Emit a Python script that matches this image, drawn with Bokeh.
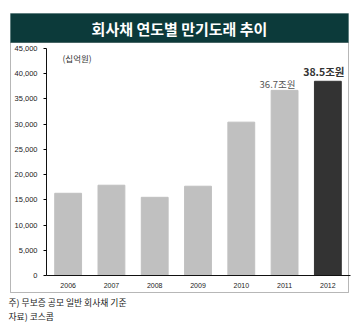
from bokeh.plotting import figure
from bokeh.models import (ColumnDataSource, FixedTicker, NumeralTickFormatter,
                          BoxAnnotation, Label, Range1d, LinearAxis)
from bokeh.core.properties import value
from bokeh.embed import file_html
from bokeh.resources import INLINE

years = ["2006", "2007", "2008", "2009", "2010", "2011", "2012"]
amounts = [16300, 17900, 15500, 17700, 30400, 36700, 38500]
bar_colors = ["#c0c0c0"] * 6 + ["#333333"]
y_ticks = [0, 5000, 10000, 15000, 20000, 25000, 30000, 35000, 40000, 45000]
note_idx = [5, 6]
note_values = [36700, 38500]
note_texts = ["36.7조원", "38.5조원"]

title_text = "회사채 연도별 만기도래 추이"
unit_text = "(십억원)"
foot1 = "주) 무보증 공모 일반 회사채 기준"
foot2 = "자료) 코스콤"

KR = "Noto Sans CJK KR"
NUM = "Liberation Sans"

W, H = 364, 323
# pixel geometry of the plotting area inside the canvas
AX_L, AX_R, AX_TOP, AX_BOT = 46, 349, 48, 275
n = len(years)
xs_per_px = n / (AX_R - AX_L)
ys_per_px = 45000 / (AX_BOT - AX_TOP)
x_range = Range1d(-AX_L * xs_per_px, n + (W - AX_R) * xs_per_px)
y_range = Range1d(-(H - AX_BOT) * ys_per_px, 45000 + AX_TOP * ys_per_px)

p = figure(width=W, height=H, output_backend="svg", toolbar_location=None,
           x_range=x_range, y_range=y_range, x_axis_type=None, y_axis_type=None,
           min_border=0)
p.outline_line_color = None
p.grid.grid_line_color = None
p.background_fill_color = "white"
p.border_fill_color = "white"

xpos = [i + 0.5 for i in range(n)]
src = ColumnDataSource(dict(x=xpos, top=amounts, color=bar_colors))
p.vbar(x="x", top="top", width=0.62, color="color", source=src)

nsrc = ColumnDataSource(dict(x=[xpos[i] for i in note_idx], y=note_values, t=note_texts,
                             fs=["9.5px", "10.5px"], fw=["normal", "bold"],
                             c=["#555555", "#333333"], xo=[-7, -4], yo=[1, -2]))
p.text(x="x", y="y", text="t", source=nsrc, text_font=value(KR), text_font_size="fs",
       text_font_style="fw", text_color="c", text_align="center", text_baseline="bottom",
       x_offset="xo", y_offset="yo")

ya = LinearAxis(fixed_location=0, bounds=(0, 45000))
ya.ticker = FixedTicker(ticks=y_ticks)
ya.formatter = NumeralTickFormatter(format="0,0")
ya.major_label_text_font = NUM
ya.major_label_text_font_size = "7.5px"
ya.major_label_text_color = "#222222"
ya.major_tick_in = 0
ya.major_tick_out = 3
ya.minor_tick_line_color = None
ya.axis_line_color = "#111111"
ya.major_label_standoff = 6
p.add_layout(ya, "left")

xa = LinearAxis(fixed_location=0, bounds=(0, n + 0.03))
xa.ticker = FixedTicker(ticks=xpos)
xa.major_label_overrides = {xp: y for xp, y in zip(xpos, years)}
xa.major_tick_line_color = None
xa.minor_tick_line_color = None
xa.axis_line_color = "#111111"
xa.major_label_text_font = NUM
xa.major_label_text_font_size = "7px"
xa.major_label_text_color = "#222222"
xa.major_label_standoff = 1
p.add_layout(xa, "below")

def sy(y):
    return H - y

# frame border and title band (screen units)
p.add_layout(BoxAnnotation(left=10, right=348, bottom=sy(292), top=sy(42),
                           left_units="screen", right_units="screen",
                           bottom_units="screen", top_units="screen",
                           fill_alpha=0, line_color="#111111", line_width=1))
p.add_layout(BoxAnnotation(left=10, right=348, bottom=sy(42), top=sy(13),
                           left_units="screen", right_units="screen",
                           bottom_units="screen", top_units="screen",
                           fill_color="#0c3a3a", fill_alpha=1, line_color="#0c3a3a"))
p.add_layout(Label(x=179, y=sy(28), x_units="screen", y_units="screen", text=title_text,
                   text_font=KR, text_font_size="15px", text_font_style="bold",
                   text_color="white", text_align="center", text_baseline="middle"))
p.add_layout(Label(x=62, y=sy(57), x_units="screen", y_units="screen", text=unit_text,
                   text_font=KR, text_font_size="8.5px", text_color="#333333",
                   text_align="left", text_baseline="middle"))
p.add_layout(Label(x=8, y=sy(302), x_units="screen", y_units="screen", text=foot1,
                   text_font=KR, text_font_size="8.8px", text_color="#222222",
                   text_align="left", text_baseline="middle"))
p.add_layout(Label(x=8, y=sy(316), x_units="screen", y_units="screen", text=foot2,
                   text_font=KR, text_font_size="8.8px", text_color="#222222",
                   text_align="left", text_baseline="middle"))

open("out.html", "w").write(file_html(p, INLINE))
